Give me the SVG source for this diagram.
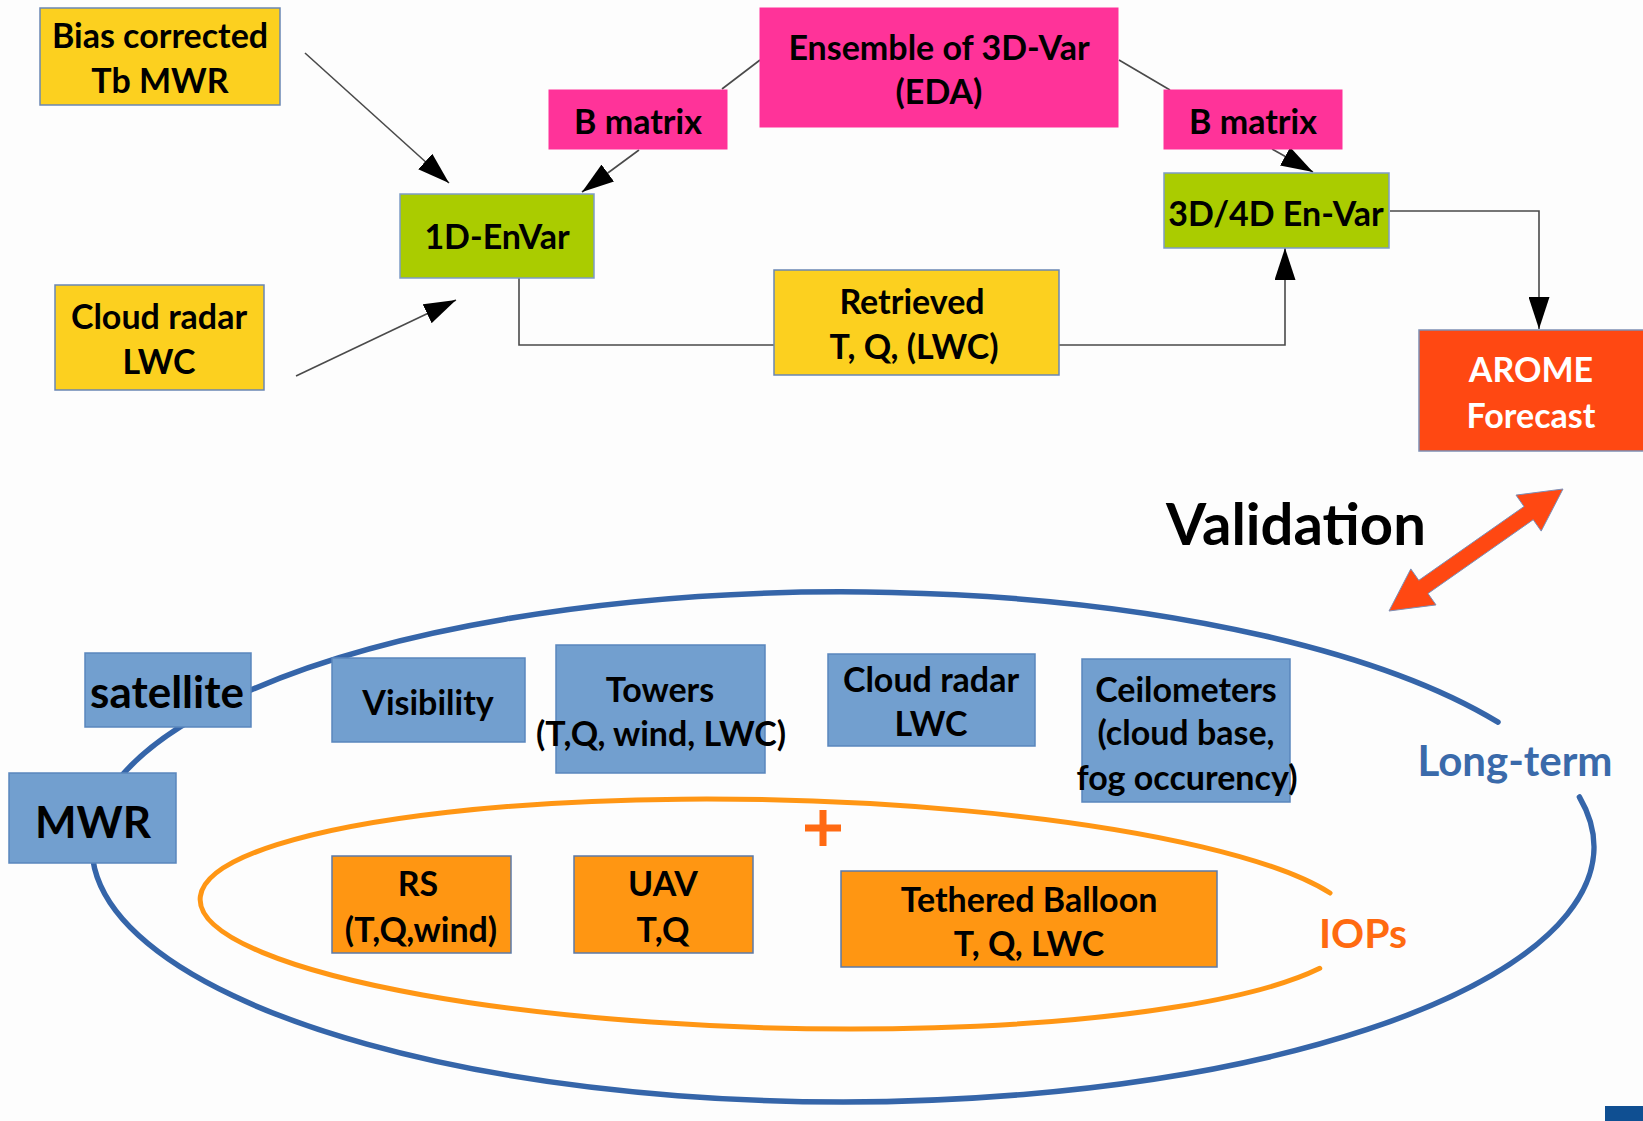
<svg xmlns="http://www.w3.org/2000/svg" width="1643" height="1121" viewBox="0 0 1643 1121">
  <defs>
    <marker id="arrow" markerUnits="userSpaceOnUse" markerWidth="33" markerHeight="21" refX="32" refY="10.5" orient="auto">
      <path d="M0,0 L32,10.5 L0,21 z" fill="#000"/>
    </marker>
    <style>
      text { font-family: Lato, "Open Sans", "Liberation Sans", sans-serif; font-weight: bold; text-anchor: middle; fill: #000; }
      .lbl { font-size: 34px; }
      .big { font-size: 44px; }
      .yel { fill: #FCD01F; stroke: #6A86B4; stroke-width: 1.5; }
      .pink { fill: #FF3399; stroke: #FF3399; stroke-width: 1; }
      .green { fill: #AACC00; stroke: #7D9CC6; stroke-width: 1.5; }
      .red { fill: #FF4812; stroke: #7D8FB4; stroke-width: 1.5; }
      .blue { fill: #729FCF; stroke: #5A86BD; stroke-width: 1.5; }
      .orange { fill: #FF9612; stroke: #5C7AA8; stroke-width: 1.5; }
      .conn { fill: none; stroke: #4A4A4A; stroke-width: 1.6; }
      .ring-blue { fill: none; stroke: #3565A9; stroke-width: 5.5; stroke-linecap: round; }
      .ring-orange { fill: none; stroke: #FF9614; stroke-width: 5; stroke-linecap: round; }
    </style>
  </defs>

  <rect x="0" y="0" width="1643" height="1121" fill="#FDFDFD"/>

  <!-- measurement campaign rings -->
  <g id="rings">
    <path class="ring-blue" d="M1579.4,797 A751,255 0 1 1 1498,722.2"/>
    <path class="ring-orange" transform="rotate(1.5 779 914)" d="M1321,954.1 A579,114 0 1 1 1329.3,878.6"/>
  </g>

  <!-- connectors -->
  <g id="connectors">
    <line class="conn" x1="305" y1="53" x2="449" y2="183" marker-end="url(#arrow)"/>
    <line class="conn" x1="296" y1="376" x2="456" y2="300" marker-end="url(#arrow)"/>
    <line class="conn" x1="639" y1="150" x2="582" y2="192" marker-end="url(#arrow)"/>
    <line class="conn" x1="760" y1="60" x2="722" y2="89"/>
    <line class="conn" x1="1119" y1="60" x2="1170" y2="90"/>
    <line class="conn" x1="1272" y1="149" x2="1313" y2="172" marker-end="url(#arrow)"/>
    <polyline class="conn" points="519,278 519,345 774,345"/>
    <polyline class="conn" points="1059,345 1285,345 1285,248" marker-end="url(#arrow)"/>
    <polyline class="conn" points="1390,211 1539,211 1539,329" marker-end="url(#arrow)"/>
  </g>

  <!-- assimilation chain -->
  <g id="bias-tb-mwr">
    <rect class="yel" x="40" y="8" width="240" height="97"/>
    <text class="lbl" x="160" y="48">Bias corrected</text>
    <text class="lbl" x="160" y="93">Tb MWR</text>
  </g>
  <g id="cloud-radar-lwc-in">
    <rect class="yel" x="55" y="285" width="209" height="105"/>
    <text class="lbl" x="159" y="329">Cloud radar</text>
    <text class="lbl" x="159" y="374">LWC</text>
  </g>
  <g id="envar-1d">
    <rect class="green" x="400" y="194" width="194" height="84"/>
    <text class="lbl" x="497" y="249">1D-EnVar</text>
  </g>
  <g id="b-matrix-left">
    <rect class="pink" x="549" y="90" width="178" height="59"/>
    <text class="lbl" x="638" y="134">B matrix</text>
  </g>
  <g id="eda">
    <rect class="pink" x="760" y="8" width="358" height="119"/>
    <text class="lbl" x="939" y="60">Ensemble of 3D-Var</text>
    <text class="lbl" x="939" y="104">(EDA)</text>
  </g>
  <g id="b-matrix-right">
    <rect class="pink" x="1164" y="90" width="178" height="59"/>
    <text class="lbl" x="1253" y="134">B matrix</text>
  </g>
  <g id="envar-3d4d">
    <rect class="green" x="1164" y="173" width="225" height="75"/>
    <text class="lbl" x="1276" y="226">3D/4D En-Var</text>
  </g>
  <g id="retrieved">
    <rect class="yel" x="774" y="270" width="285" height="105"/>
    <text class="lbl" x="912" y="314">Retrieved</text>
    <text class="lbl" x="914" y="359">T, Q, (LWC)</text>
  </g>
  <g id="arome">
    <rect class="red" x="1419" y="330" width="230" height="121"/>
    <text class="lbl" x="1531" y="382" style="fill:#FFFFFF">AROME</text>
    <text class="lbl" x="1531" y="428" style="fill:#FFFFFF">Forecast</text>
  </g>

  <!-- validation link -->
  <g id="validation">
    <text x="1296" y="545" style="font-size:58px">Validation</text>
    <polygon points="1563,489 1541.2,531.1 1533.2,519.7 1428,593.5 1436,604.9 1389,611 1410.8,568.9 1418.8,580.3 1524,506.5 1516,495.1" fill="#FF4812" stroke="#7A8FB8" stroke-width="1"/>
  </g>

  <!-- observing systems -->
  <g id="satellite">
    <rect class="blue" x="85" y="653" width="166" height="74"/>
    <text class="big" x="167" y="708">satellite</text>
  </g>
  <g id="mwr">
    <rect class="blue" x="9" y="773" width="167" height="90"/>
    <text class="big" x="93" y="838">MWR</text>
  </g>
  <g id="visibility">
    <rect class="blue" x="332" y="658" width="193" height="84"/>
    <text class="lbl" x="428" y="715">Visibility</text>
  </g>
  <g id="towers">
    <rect class="blue" x="556" y="645" width="209" height="128"/>
    <text class="lbl" x="660" y="702">Towers</text>
    <text class="lbl" x="661" y="746">(T,Q, wind, LWC)</text>
  </g>
  <g id="cloud-radar-lwc">
    <rect class="blue" x="828" y="654" width="207" height="92"/>
    <text class="lbl" x="931" y="692">Cloud radar</text>
    <text class="lbl" x="931" y="736">LWC</text>
  </g>
  <g id="ceilometers">
    <rect class="blue" x="1082" y="659" width="208" height="143"/>
    <text class="lbl" x="1186" y="702">Ceilometers</text>
    <text class="lbl" x="1186" y="745">(cloud base,</text>
    <text class="lbl" x="1187" y="790">fog occurency)</text>
  </g>
  <g id="long-term">
    <text x="1515" y="776" style="font-size:42px;fill:#3A6AAA">Long-term</text>
  </g>

  <g id="plus">
    <path d="M823,810 V846 M805,828 H841" stroke="#FF6A13" stroke-width="7" fill="none"/>
  </g>
  <g id="rs">
    <rect class="orange" x="332" y="856" width="179" height="97"/>
    <text class="lbl" x="418" y="896">RS</text>
    <text class="lbl" x="421" y="942">(T,Q,wind)</text>
  </g>
  <g id="uav">
    <rect class="orange" x="574" y="856" width="179" height="97"/>
    <text class="lbl" x="663" y="896">UAV</text>
    <text class="lbl" x="663" y="942">T,Q</text>
  </g>
  <g id="tethered-balloon">
    <rect class="orange" x="841" y="871" width="376" height="96"/>
    <text class="lbl" x="1029" y="912">Tethered Balloon</text>
    <text class="lbl" x="1029" y="956">T, Q, LWC</text>
  </g>
  <g id="iops">
    <text x="1363" y="948" style="font-size:41px;fill:#FF6A10">IOPs</text>
  </g>

  <rect x="1605" y="1106" width="38" height="15" fill="#0F4F92"/>
</svg>
